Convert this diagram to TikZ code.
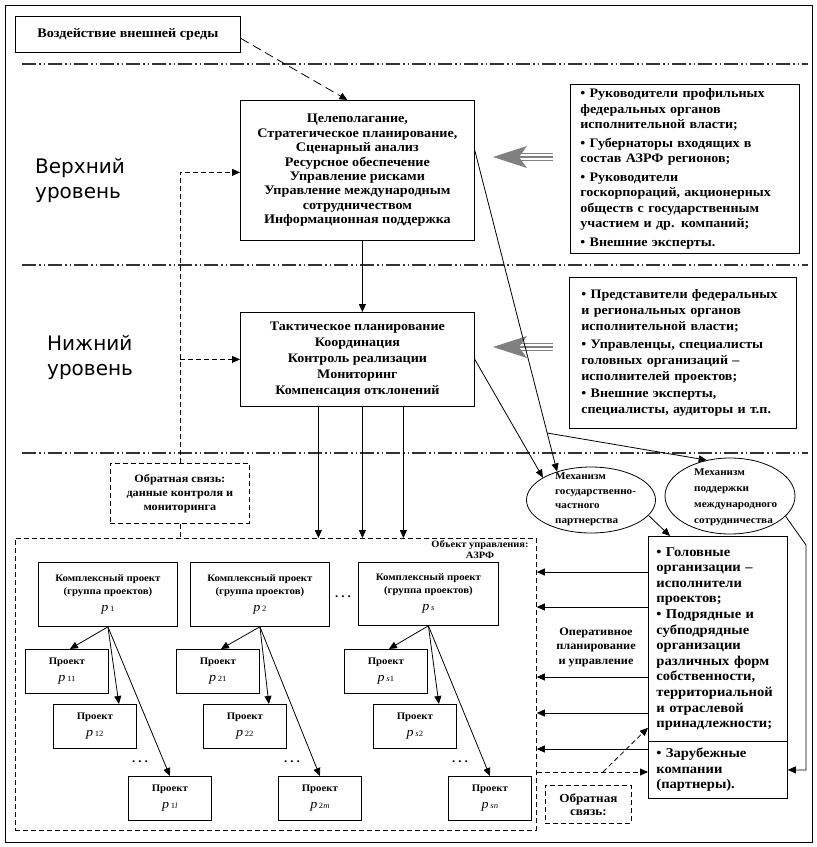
\documentclass[tikz,border=0pt]{standalone}
\usepackage{fontspec}
\setmainfont{Liberation Serif}[FakeStretch=1.08]
\newfontfamily\levelsans{DejaVu Sans}
\usetikzlibrary{arrows.meta,shapes.geometric,positioning}

% project index: p with a small index
\newcommand{\pidx}[1]{{\fontsize{13}{13}\selectfont\mdseries\itshape p}\,{\fontsize{8}{8}\selectfont\mdseries #1}}
\newcommand{\dotsrow}{.\hspace{3pt}.\hspace{3pt}.}

\begin{document}
\begin{tikzpicture}[x=1pt, y=-1pt, >={Triangle[length=8pt,width=7pt]},
  box/.style={draw, line width=0.8pt, inner sep=0pt, align=center, anchor=north west},
  dashedbox/.style={dash pattern=on 5pt off 3pt},
  bigtext/.style={font={\fontsize{13.1}{14.4}\selectfont\bfseries}},
  tacttext/.style={font={\fontsize{13}{16}\selectfont\bfseries}},
  listbox/.style={box, align=left, inner xsep=10pt, font={\fontsize{13}{15.5}\selectfont\bfseries}},
  exectext/.style={align=left, inner xsep=8pt, text width=123pt, font={\fontsize{13.5}{15.6}\selectfont\bfseries}},
  smalltext/.style={font={\fontsize{11.3}{14}\selectfont\bfseries}, align=center, inner sep=0pt},
  elltext/.style={font={\fontsize{10.3}{14.5}\selectfont\bfseries}, align=left, inner sep=0pt, anchor=west},
  projtext/.style={font={\fontsize{10}{13}\selectfont\bfseries}},
  projbox/.style={box, projtext, minimum width=83pt, minimum height=44pt},
  kpbox/.style={box, projtext, minimum width=139pt, minimum height=64pt},
  dotnode/.style={font={\fontsize{12}{12}\selectfont\bfseries}, inner sep=0pt},
  level/.style={font={\fontsize{20}{25}\selectfont\levelsans}, align=left, anchor=west, inner sep=0pt},
  levelline/.style={line width=1.2pt, black!80, dash pattern=on 14pt off 3pt on 1.5pt off 3pt on 1.5pt off 3pt},
  ell/.style={draw, ellipse, line width=0.8pt, inner sep=0pt},
  arr/.style={->, line width=0.8pt},
  dasharr/.style={->, line width=0.8pt, dash pattern=on 5pt off 3pt},
  blockgray/.style={black!50}]

\useasboundingbox (0,0) rectangle (817,847);

% Frame
\draw[line width=0.9pt] (5,5) rectangle (812,842);

% Level separators
\foreach \yy in {64,265,453}
  \draw[levelline] (22,\yy) -- (808,\yy);

% Environment
\node[box, bigtext, minimum width=225pt, minimum height=36pt] (env) at (15,16) {Воздействие внешней среды};

% Upper level
\node[level] (upper) at (35,180) {Верхний\\уровень};
\node[box, bigtext, minimum width=234pt, minimum height=140pt] (strat) at (240,100)
  {Целеполагание,\\Стратегическое планирование,\\Сценарный анализ\\Ресурсное обеспечение\\Управление рисками\\Управление международным\\сотрудничеством\\Информационная поддержка};
\node[listbox, text width=209pt, minimum height=169pt] (upperlist) at (570,84)
  {• Руководители профильных\\федеральных органов\\исполнительной власти;\\[3pt]• Губернаторы входящих в\\состав АЗРФ регионов;\\[3pt]• Руководители\\госкорпораций, акционерных\\обществ с государственным\\участием и др. компаний;\\[3pt]• Внешние эксперты.};

% Lower level
\node[level] (lower) at (47,357) {Нижний\\уровень};
\node[box, tacttext, minimum width=234pt, minimum height=94pt] (tact) at (240,312)
  {Тактическое планирование\\Координация\\Контроль реализации\\Мониторинг\\Компенсация отклонений};
\node[listbox, inner xsep=12pt, text width=203pt, minimum height=151pt, font={\fontsize{13}{16}\selectfont\bfseries}] (lowerlist) at (569,277)
  {• Представители федеральных\\и региональных органов\\исполнительной власти;\\[1.5pt]• Управленцы, специалисты\\головных организаций –\\исполнителей проектов;\\[1.5pt]• Внешние эксперты,\\специалисты, аудиторы и т.п.};

% Gray block arrows
\foreach \yy in {157,347} {
  \fill[blockgray] (493,\yy) -- (527,\yy-11) -- (519,\yy) -- (527,\yy+11) -- cycle;
  \foreach \dy in {-3.5,0,3.5}
    \draw[blockgray, line width=1.4pt] (515,\yy+\dy) -- (553,\yy+\dy);
}

% Mechanisms
\node[ell, minimum width=129pt, minimum height=66pt] (gpp) at (591,500) {};
\node[elltext] (gpptxt) at (555,499) {Механизм\\государственно-\\частного\\партнерства};
\node[ell, minimum width=130pt, minimum height=76pt] (intl) at (730,496) {};
\node[elltext, font={\fontsize{10.3}{16}\selectfont\bfseries}] (intltxt) at (694,497) {Механизм\\поддержки\\международного\\сотрудничества};

% Executors
\node[box, exectext, minimum height=205pt] (execa) at (648,536)
  {• Головные\\организации –\\исполнители\\проектов;\\• Подрядные и\\субподрядные\\организации\\различных форм\\собственности,\\территориальной\\и отраслевой\\принадлежности;};
\node[box, exectext, minimum height=57pt] (execb) at (648,741)
  {• Зарубежные\\компании\\(партнеры).};

% Feedback
\node[box, dashedbox, smalltext, minimum width=139pt, minimum height=60pt] (fbleft) at (110,463)
  {Обратная связь:\\данные контроля и\\мониторинга};
\node[box, dashedbox, smalltext, font={\fontsize{12.2}{13}\selectfont\bfseries}, minimum width=86pt, minimum height=38pt] (fbright) at (545,785)
  {Обратная\\связь:};

% Object of management
\node[box, dashedbox, minimum width=521pt, minimum height=292pt] (obj) at (15,538) {};
\node[font={\fontsize{9.7}{11}\selectfont\bfseries}, align=center, inner sep=0pt] (objlbl) at (480,550) {Объект управления:\\АЗРФ};

% Complex projects
\node[kpbox] (kp1) at (38,562) {Комплексный проект\\(группа проектов)\\[4pt]\pidx{1}};
\node[kpbox] (kp2) at (190,562) {Комплексный проект\\(группа проектов)\\[4pt]\pidx{2}};
\node[kpbox, minimum width=140pt, minimum height=63pt] (kps) at (358,562) {Комплексный проект\\(группа проектов)\\[4pt]\pidx{\textit{s}}};
\node[dotnode] (kpdots) at (343,597) {\dotsrow};

% Projects
\node[projbox] (pr11) at (25,649) {Проект\\[4pt]\pidx{11}};
\node[projbox] (pr12) at (53,704) {Проект\\[4pt]\pidx{12}};
\node[projbox] (pr1l) at (128,776) {Проект\\[4pt]\pidx{1\textit{l}}};
\node[projbox] (pr21) at (176,649) {Проект\\[4pt]\pidx{21}};
\node[projbox] (pr22) at (203,704) {Проект\\[4pt]\pidx{22}};
\node[projbox] (pr2m) at (278,776) {Проект\\[4pt]\pidx{2\textit{m}}};
\node[projbox] (prs1) at (344,649) {Проект\\[4pt]\pidx{\textit{s}1}};
\node[projbox] (prs2) at (373,704) {Проект\\[4pt]\pidx{\textit{s}2}};
\node[projbox] (prsn) at (448,776) {Проект\\[4pt]\pidx{\textit{sn}}};
\node[dotnode] (dots1) at (140,762) {\dotsrow};
\node[dotnode] (dots2) at (292,762) {\dotsrow};
\node[dotnode] (dotss) at (460,762) {\dotsrow};

% Connections
\draw[dasharr, dash pattern=on 9pt off 5pt] ([yshift=-4pt]env.east) -- ([xshift=-10pt]strat.north);
\draw[arr] ([xshift=5pt]strat.south) -- ([xshift=5pt]tact.north);
\foreach \dx in {-39,5,46}
  \draw[arr] ([xshift=\dx pt]tact.south) -- ([xshift=\dx pt]tact.south |- obj.north);

\draw[dasharr] (fbleft.north) |- ([yshift=-2pt]strat.west);
\draw[dasharr] (fbleft.north |- tact.west) -- (tact.west);
\draw[line width=0.8pt, dashedbox] (fbleft.south) -- (fbleft.south |- obj.north);

\foreach \k/\a/\b/\c in {1/11/12/1l, 2/21/22/2m, s/s1/s2/sn} {
  \draw[arr] (kp\k.south) -- ([xshift=3pt]pr\a.north);
  \draw[arr] (kp\k.south) -- ([xshift=24pt]pr\b.north);
  \draw[arr] (kp\k.south) -- (pr\c.north);
}

\draw[arr] ([yshift=20pt]strat.east) -- coordinate[pos=0.88] (branch) (gpp.140);
\draw[arr] (tact.east) -- (gpp.155);
\draw[arr] (branch) -- (intl.123);
\draw[arr] (gpp.-15) -- ([xshift=22pt]execa.north west);
\coordinate (bend) at (806,545);
\draw[arr] (intl.-20) -- (bend) |- (execb.east);

\foreach \yy in {572,607,677,713}
  \draw[arr] (execa.west |- 0,\yy) -- (obj.east |- 0,\yy);
\draw[arr] (execb.west |- 0,749) -- (obj.east |- 0,749);
\node[smalltext, font={\fontsize{11.4}{14.5}\selectfont\bfseries}] (oper) at (596,647) {Оперативное\\планирование\\и управление};

\coordinate (fbbend) at (603,772);
\draw[dasharr] (obj.east |- fbbend) -- (fbbend -| execb.west);
\draw[dasharr] (fbbend) -- ([yshift=14pt]execa.south west);

\end{tikzpicture}
\end{document}
